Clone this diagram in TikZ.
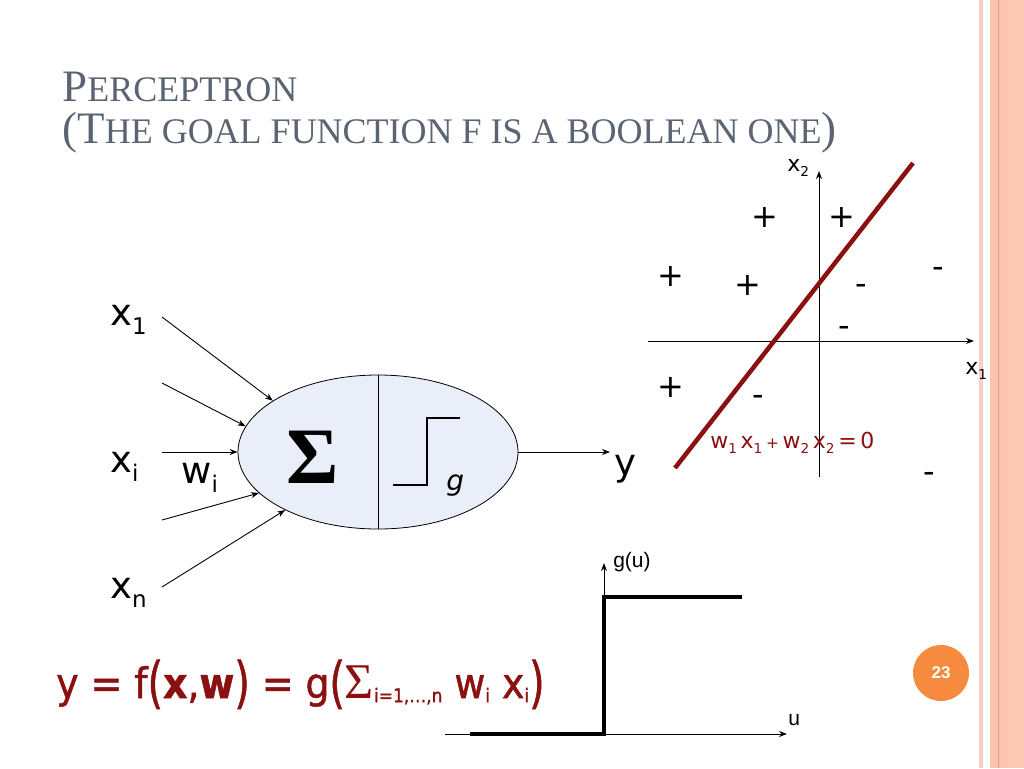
\documentclass[tikz,border=0pt]{standalone}
\usepackage{fontspec}
\usepackage{xcolor}
\usepackage{tikz}
\usetikzlibrary{arrows.meta}
\usetikzlibrary{shapes.geometric}
\usetikzlibrary{positioning}
\newfontfamily\comic{DejaVu Sans}
\newfontfamily\comicc[FakeBold=1.2]{DejaVu Sans Condensed}
\newfontfamily\arial{Liberation Sans}
\newfontfamily\timesf{Liberation Serif}
\definecolor{slidegray}{HTML}{5B6472}
\definecolor{darkred}{HTML}{8B1010}
\definecolor{pagedot}{HTML}{F68B3F}
\definecolor{salmon}{HTML}{FBC4AE}
\definecolor{salmonpale}{HTML}{F9CFC3}
\definecolor{salmonlight}{HTML}{FDCAB6}
\definecolor{salmondark}{HTML}{E59A7A}
\definecolor{cellblue}{HTML}{E9EEF8}
\newcommand\sbs[1]{\raisebox{-0.27em}{\scalebox{0.62}{#1}}}
\newcommand\tsb[1]{\raisebox{-0.1em}{\scalebox{0.45}{#1}}}
\newcommand\bpar[1]{\raisebox{-0.09em}{\scalebox{1.05}[1.32]{#1}}}
\newcommand\fs[1]{\fontsize{#1}{#1}\selectfont}
\newcommand\tcap[1]{{\fs{45}#1}}

\begin{document}
\begin{tikzpicture}[x=1pt,y=-1pt,>={Stealth[length=8pt,width=6pt]},semithick]
	\tikzstyle{neuron}=[draw, ellipse, fill=cellblue, minimum width=280pt, minimum height=154pt, inner sep=0pt, line width=0.8pt]
	\tikzstyle{lbl}=[anchor=base west, inner sep=0pt, font=\comic\fs{37}]
	\tikzstyle{sign}=[inner sep=0pt, font=\comic\fs{32}]
	\tikzstyle{small}=[anchor=base west, inner sep=0pt, font=\comic\fs{22}]
	\tikzstyle{plain}=[anchor=base west, inner sep=0pt, font=\arial\fs{21}]
	\tikzstyle{title}=[anchor=base west, inner sep=0pt, text=slidegray, font=\timesf\fs{36}]
	\tikzstyle{inarrow}=[->, line width=0.9pt]
	\useasboundingbox (0,0) rectangle (1024,768);
	% slide border
	\fill[salmonpale] (979,0) rectangle (983,768);
	\fill[salmon] (990,0) rectangle (1024,768);
	\fill[salmonlight] (1008,0) rectangle (1024,768);
	\draw[salmondark, line width=1pt] (998.5,0) -- (998.5,768);
	% title
	\node[title] (T1) at (62,101) {\tcap{P}ERCEPTRON};
	\node[title] (T2) at (62,143) {\tcap{(T}HE GOAL FUNCTION F IS A BOOLEAN ONE\tcap{)}};
	% neuron
	\node[neuron] (N) at (378,452) {};
	\draw[line width=0.8pt] (N.north) -- (N.south);
	\node[font=\timesf\bfseries\fs{80}] (SUM) at (313,457) {Σ};
	\draw[line width=1.8pt] (393,485) -- (427,485) -- (427,418) -- (460,418);
	\node[anchor=base west, inner sep=0pt, font=\comic\itshape\fs{28}] (G) at (446,490) {g};
	% inputs
	\node[lbl] (X1) at (110,325) {x\sbs{1}};
	\node[lbl] (XI) at (110,472) {x\sbs{i}};
	\node[lbl] (WI) at (181,483) {w\sbs{i}};
	\node[lbl] (XN) at (110,598) {x\sbs{n}};
	\node[lbl] (Y) at (614,475) {y};
	\coordinate (S1) at (162,317);
	\coordinate (S2) at (162,383);
	\coordinate (S3) at (162,452);
	\coordinate (S4) at (162,520);
	\coordinate (S5) at (162,587);
	\coordinate (YE) at (610,452);
	\path[inarrow]
		(S1) edge (N.154)
		(S2) edge (N.169)
		(S3) edge (N.west)
		(S4) edge (N.199)
		(S5) edge (N.212)
		(N.east) edge (YE);
	% decision plane
	\coordinate (H0) at (648,341);
	\coordinate (H1) at (974,341);
	\coordinate (V0) at (819,477);
	\coordinate (V1) at (819,171);
	\draw[->, line width=1pt] (H0) -- (H1);
	\draw[->, line width=1pt] (V0) -- (V1);
	\node[small] (X2L) at (787,171) {x\sbs{2}};
	\node[small] (X1L) at (965,374) {x\sbs{1}};
	\coordinate (L0) at (675,468);
	\coordinate (L1) at (913,163);
	\draw[darkred, line width=4.5pt] (L0) -- (L1);
	\foreach \p [count=\k] in {(765,217),(842,217),(671,276),(748,285),(671,387)}
		\node[sign] (P\k) at \p {+};
	\foreach \p [count=\k] in {(938,272),(861,289),(844,331),(758,400),(929,477)}
		\node[sign] (M\k) at \p {-};
	\node[small, text=darkred] (EQ) at (710,448) {w\sbs{1}\,x\sbs{1}\,\scalebox{0.7}{+}\,w\sbs{2}\,x\sbs{2}\,=\,0};
	% step function
	\coordinate (A0) at (445,734);
	\coordinate (A1) at (787,734);
	\coordinate (B0) at (604,734);
	\coordinate (B1) at (604,563);
	\draw[->, line width=1pt] (A0) -- (A1);
	\draw[->, line width=1pt] (B0) -- (B1);
	\draw[line width=4pt] (470,734) -- (604,734) -- (604,597) -- (742,597);
	\node[plain] (GU) at (613,567) {g(u)};
	\node[plain] (U) at (788,725) {u};
	% formula
	\node[anchor=base west, inner sep=0pt, text=darkred, font=\comicc\fs{42}] (F) at (56,698)
		{y = f\bpar{(}\textbf{x},\textbf{w}\bpar{)} = g\bpar{(}{\timesf\fs{50}Σ}\tsb{i=1,…,n} w\tsb{i} x\tsb{i}\bpar{)}};
	% page number
	\node[circle, fill=pagedot, minimum size=56pt, inner sep=0pt, text=white, font=\arial\bfseries\fs{17}] (PG) at (941,673) {23};
\end{tikzpicture}
\end{document}
